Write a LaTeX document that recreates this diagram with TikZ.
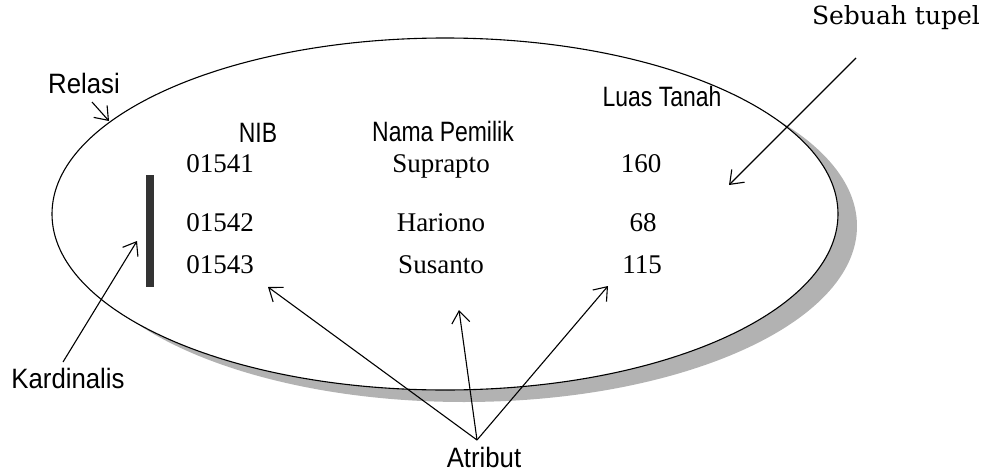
\documentclass[tikz,border=0pt]{standalone}
\usepackage{fontspec}
\usetikzlibrary{arrows.meta}
\newfontfamily\labelfont[FakeStretch=0.92]{Liberation Sans}
\newfontfamily\headfont[FakeStretch=0.82]{Liberation Sans}
\newfontfamily\valfont{Liberation Serif}
\newfontfamily\tupelfont{DejaVu Serif}
\begin{document}
\begin{tikzpicture}[x=1pt,y=-1pt,
  lbl/.style={font=\labelfont\fontsize{28}{30}\selectfont, inner sep=0pt, anchor=base},
  head/.style={font=\headfont\fontsize{28}{30}\selectfont, inner sep=0pt, anchor=base},
  val/.style={font=\valfont\fontsize{27}{29}\selectfont, inner sep=0pt, anchor=base},
  arr/.style={-{Straight Barb[length=12pt,width=18pt]}, line width=1.1pt},
]
\useasboundingbox (0,0) rectangle (989,474);
% shadow and relation ellipse
\fill[gray!60] (464,226) ellipse [x radius=393pt, y radius=176pt];
\draw[line width=1.1pt, fill=white] (445,214) ellipse [x radius=393pt, y radius=176pt];
% cardinality bar
\fill[black!80] (146,175) rectangle (154,287);
% labels
\node[lbl] (relasi) at (84,93) {Relasi};
\node[head] (nib) at (258,142) {NIB};
\node[head] (nama) at (443,141) {Nama Pemilik};
\node[head] (luas) at (662,106) {Luas Tanah};
\node[lbl] (kard) at (68,388) {Kardinalis};
\node[lbl] (atribut) at (484,467) {Atribut};
\node[font=\tupelfont\fontsize{25}{27}\selectfont, inner sep=0pt, anchor=base] (tupel) at (896,24) {Sebuah tupel};
% values
\node[val] (a1) at (220,172) {01541};
\node[val] (b1) at (441,172) {Suprapto};
\node[val] (c1) at (641,172) {160};
\node[val] (a2) at (220,231) {01542};
\node[val] (b2) at (441,231) {Hariono};
\node[val] (c2) at (643,231) {68};
\node[val] (a3) at (220,273) {01543};
\node[val] (b3) at (441,273) {Susanto};
\node[val] (c3) at (642,273) {115};
% connector ends
\coordinate (relasiS) at (92,102);
\coordinate (relasiT) at (109,121);
\coordinate (kardS) at (63,362);
\coordinate (kardT) at (137,241);
\coordinate (tupelS) at (856,58);
\coordinate (tupelT) at (729,185);
\coordinate (atrS) at (477,440);
\coordinate (atrT1) at (268,287);
\coordinate (atrT2) at (459,310);
\coordinate (atrT3) at (608,286);
% arrows
\draw[arr] (relasiS) -- (relasiT);
\draw[arr] (kardS) -- (kardT);
\draw[arr] (tupelS) -- (tupelT);
\draw[arr] (atrS) -- (atrT1);
\draw[arr] (atrS) -- (atrT2);
\draw[arr] (atrS) -- (atrT3);
\end{tikzpicture}
\end{document}
